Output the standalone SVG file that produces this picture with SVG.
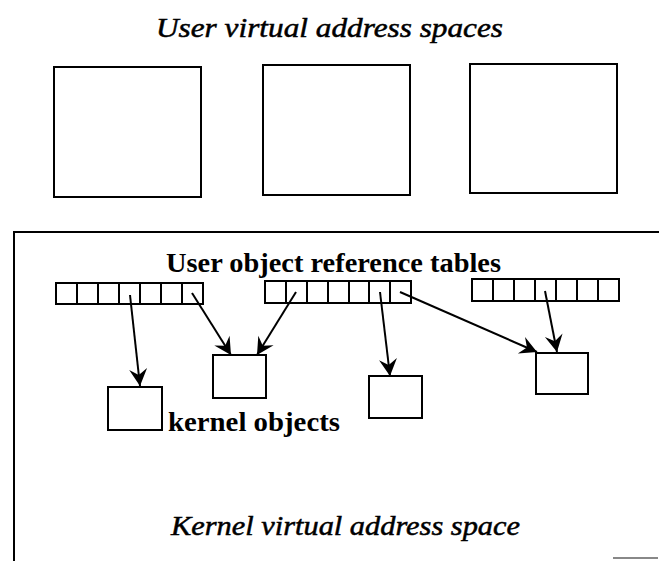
<svg xmlns="http://www.w3.org/2000/svg" width="659" height="561" viewBox="0 0 659 561">
<style>
.box{fill:#fff;stroke:#000;stroke-width:2}
.cell{fill:#fff;stroke:#000;stroke-width:2}
.conn{fill:none;stroke:#000;stroke-width:2;marker-end:url(#ah)}
.it{font-family:"Liberation Serif",serif;font-style:italic;font-size:27px;fill:#000;stroke:#000;stroke-width:0.5}
.bd{font-family:"Liberation Serif",serif;font-weight:bold;font-size:27px;fill:#000}
</style>
<defs>
<marker id="ah" viewBox="-18 -10 19 20" refX="0" refY="0" markerWidth="19" markerHeight="20" markerUnits="userSpaceOnUse" orient="auto">
<path d="M0,0 L-17,-9 L-11,0 L-17,9 Z" fill="#000"/>
</marker>
</defs>
<rect width="659" height="561" fill="#fff"/>
<g id="title"><text class="it" x="156" y="37" textLength="347" lengthAdjust="spacingAndGlyphs">User virtual address spaces</text></g>
<g id="uvas1"><rect class="box" x="54" y="67" width="147" height="130"/></g>
<g id="uvas2"><rect class="box" x="263" y="65" width="147" height="130"/></g>
<g id="uvas3"><rect class="box" x="470" y="64" width="147" height="129"/></g>
<g id="kernel-space">
<path d="M14,561 L14,232 L659,232" fill="none" stroke="#000" stroke-width="2"/>
<line x1="613" y1="558" x2="658" y2="558" stroke="#888" stroke-width="2"/>
<text class="it" x="171" y="535" textLength="349" lengthAdjust="spacingAndGlyphs">Kernel virtual address space</text>
</g>
<g id="tables-label"><text class="bd" x="166" y="272" textLength="335" lengthAdjust="spacingAndGlyphs">User object reference tables</text></g>
<g id="table1">
<rect class="cell" x="56" y="283" width="147" height="21"/>
<path d="M77,283V304M98,283V304M119,283V304M140,283V304M161,283V304M182,283V304" stroke="#000" stroke-width="2"/>
</g>
<g id="table2">
<rect class="cell" x="265" y="281" width="146" height="22"/>
<path d="M286,281V303M307,281V303M328,281V303M349,281V303M369,281V303M390,281V303" stroke="#000" stroke-width="2"/>
</g>
<g id="table3">
<rect class="cell" x="472" y="279" width="147" height="22"/>
<path d="M493,279V301M514,279V301M535,279V301M556,279V301M577,279V301M598,279V301" stroke="#000" stroke-width="2"/>
</g>
<g id="kobjA"><rect class="box" x="108" y="387" width="54" height="43"/></g>
<g id="kobjB"><rect class="box" x="213" y="355" width="53" height="43"/></g>
<g id="kobjC"><rect class="box" x="369" y="376" width="53" height="42"/></g>
<g id="kobjD"><rect class="box" x="536" y="353" width="52" height="41"/></g>
<g id="kobj-label"><text class="bd" x="168" y="431" textLength="172" lengthAdjust="spacingAndGlyphs">kernel objects</text></g>
<g id="connectors">
<line class="conn" x1="130" y1="295" x2="140" y2="386"/>
<line class="conn" x1="192" y1="293" x2="231" y2="355"/>
<line class="conn" x1="296" y1="292" x2="257" y2="355"/>
<line class="conn" x1="380" y1="292" x2="390" y2="376"/>
<line class="conn" x1="400" y1="292" x2="537" y2="352"/>
<line class="conn" x1="545" y1="291" x2="557" y2="352"/>
</g>
</svg>
